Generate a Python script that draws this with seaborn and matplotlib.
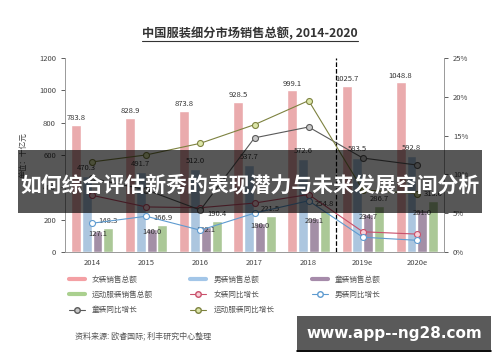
import seaborn as sns
import matplotlib.pyplot as plt
import pandas as pd
from matplotlib.lines import Line2D
from matplotlib.patches import Rectangle
from matplotlib.ticker import FuncFormatter

years = ['2014', '2015', '2016', '2017', '2018', '2019e', '2020e']
series_names = ['女装销售总额', '男装销售总额', '童装销售总额', '运动服装销售总额']
women_sales = [783.8, 828.9, 873.8, 928.5, 999.1, 1025.7, 1048.8]
men_sales = [470.3, 491.7, 512.0, 537.7, 572.6, 583.5, 592.8]
kids_sales = [127.1, 140.0, 152.1, 180.0, 209.1, 234.7, 261.0]
sports_sales = [148.3, 166.9, 190.4, 221.5, 254.8, 286.7, 313.6]

growth_names = ['女装同比增长', '男装同比增长', '童装同比增长', '运动服装同比增长']
women_growth = [7.3, 5.8, 5.7, 6.3, 7.4, 2.6, 2.3]
men_growth = [3.7, 4.6, 2.8, 5.0, 6.6, 1.9, 1.5]
kids_growth = [9.5, 8.0, 5.4, 14.7, 16.1, 12.1, 11.2]
sports_growth = [11.6, 12.5, 14.0, 16.4, 19.5, 8.0, 7.5]

title = '中国服装细分市场销售总额, 2014-2020'
banner = '如何综合评估新秀的表现潜力与未来发展空间分析'
source = '资料来源: 欧睿国际; 利丰研究中心整理'
site = 'www.app--ng28.com'

bar_colors = ['#F4A0A4', '#A3C6E8', '#A68BAA', '#AAD08F']
line_colors = ['#C9506B', '#5E9BD0', '#5A5A5A', '#7D8240']
marker_faces = ['#F8D0D8', '#FFFFFF', '#C8C8C8', '#DCE6A8']

sns.set_style('white')
plt.rcParams['font.family'] = ['Noto Sans CJK SC', 'DejaVu Sans']

df = pd.DataFrame({
    'year': years * 4,
    'series': [s for s in series_names for _ in years],
    'value': women_sales + men_sales + kids_sales + sports_sales,
})

fig = plt.figure(figsize=(5, 3.62), dpi=100)
ax = fig.add_axes([0.13, 0.304, 0.758, 0.536])

sns.barplot(data=df, x='year', y='value', hue='series', palette=bar_colors,
            width=0.8, gap=0.08, ax=ax, legend=False, zorder=2)

pads = [2, 3, -5, 2]
for cont, pad in zip(ax.containers, pads):
    ax.bar_label(cont, fmt='%.1f', padding=pad, fontsize=5.5, color='#333333')

ax.set_ylim(0, 1200)
ax.set_yticks(range(0, 1201, 200))
ax.set_xlim(-0.5, 6.5)
ax.set_xlabel('')
ax.set_ylabel('单位：十亿元', fontsize=5.5, color='#444444', labelpad=8)
ax.tick_params(axis='both', labelsize=5.5, colors='#444444', length=3, width=0.6)
ax.tick_params(axis='x', length=0, pad=5)
for side in ['left', 'bottom']:
    ax.spines[side].set_color('#999999')
    ax.spines[side].set_linewidth(0.7)
ax.spines['top'].set_visible(False)
ax.spines['right'].set_visible(False)
ax.axvline(4.5, color='black', ls='--', lw=0.9, zorder=3)

ax2 = ax.twinx()
xs = list(range(len(years)))
growths = [women_growth, men_growth, kids_growth, sports_growth]
for vals, lc, mf in zip(growths, line_colors, marker_faces):
    sns.lineplot(x=xs, y=vals, ax=ax2, color=lc, lw=0.8, marker='o',
                 markersize=4.3, markerfacecolor=mf, markeredgecolor=lc,
                 markeredgewidth=0.8, zorder=4)
ax2.set_ylim(0, 25)
ax2.set_yticks(range(0, 26, 5))
ax2.yaxis.set_major_formatter(FuncFormatter(lambda v, p: f'{int(v)}%'))
ax2.tick_params(axis='y', labelsize=5.5, colors='#444444', length=3, width=0.6)
ax2.spines['right'].set_color('#999999')
ax2.spines['right'].set_linewidth(0.7)
for side in ['top', 'left', 'bottom']:
    ax2.spines[side].set_visible(False)

# legend, row order as in the source chart
handles = [Line2D([], [], color=c, lw=3) for c in bar_colors]
handles += [Line2D([], [], color=lc, lw=0.8, marker='o', markersize=4,
                   markerfacecolor=mf, markeredgecolor=lc)
            for lc, mf in zip(line_colors, marker_faces)]
labels = series_names + growth_names
order = [0, 3, 6, 1, 4, 7, 2, 5]
leg = fig.legend([handles[i] for i in order], [labels[i] for i in order],
                 loc='upper left', bbox_to_anchor=(0.138, 0.238), ncol=3,
                 frameon=False, fontsize=5.5, handlelength=2.1,
                 handletextpad=0.9, columnspacing=4.9, labelspacing=0.95,
                 borderpad=0, borderaxespad=0)
for t in leg.get_texts():
    t.set_color('#555555')

t = fig.text(0.5, 0.908, title, ha='center', va='center', fontsize=8.8,
             fontweight='bold', color='#333333')
fig.canvas.draw()
bb = t.get_window_extent().transformed(fig.transFigure.inverted())
fig.add_artist(Line2D([bb.x0, bb.x1], [bb.y0 - 0.004, bb.y0 - 0.004],
                      color='#333333', lw=0.8, transform=fig.transFigure))

fig.text(0.15, 0.072, source, ha='left', va='center', fontsize=5.8,
         color='#555555')

fig.add_artist(Rectangle((0.036, 0.412), 0.928, 0.174, transform=fig.transFigure,
                         facecolor='black', alpha=0.66, edgecolor='none', zorder=10))
fig.text(0.5, 0.49, banner, ha='center', va='center', fontsize=15,
         fontweight='bold', color='white', zorder=11)

fig.add_artist(Rectangle((0.594, 0.028), 0.388, 0.1, transform=fig.transFigure,
                         facecolor='#5A5A5A', edgecolor='none', zorder=10))
fig.add_artist(Line2D([0.594, 0.982], [0.03, 0.03], color='black', lw=1.2,
                      transform=fig.transFigure, zorder=11))
fig.text(0.788, 0.078, site, ha='center', va='center', fontsize=11,
         fontweight='bold', color='white', family='DejaVu Sans', zorder=11)

fig.savefig('out.png', dpi=100)
